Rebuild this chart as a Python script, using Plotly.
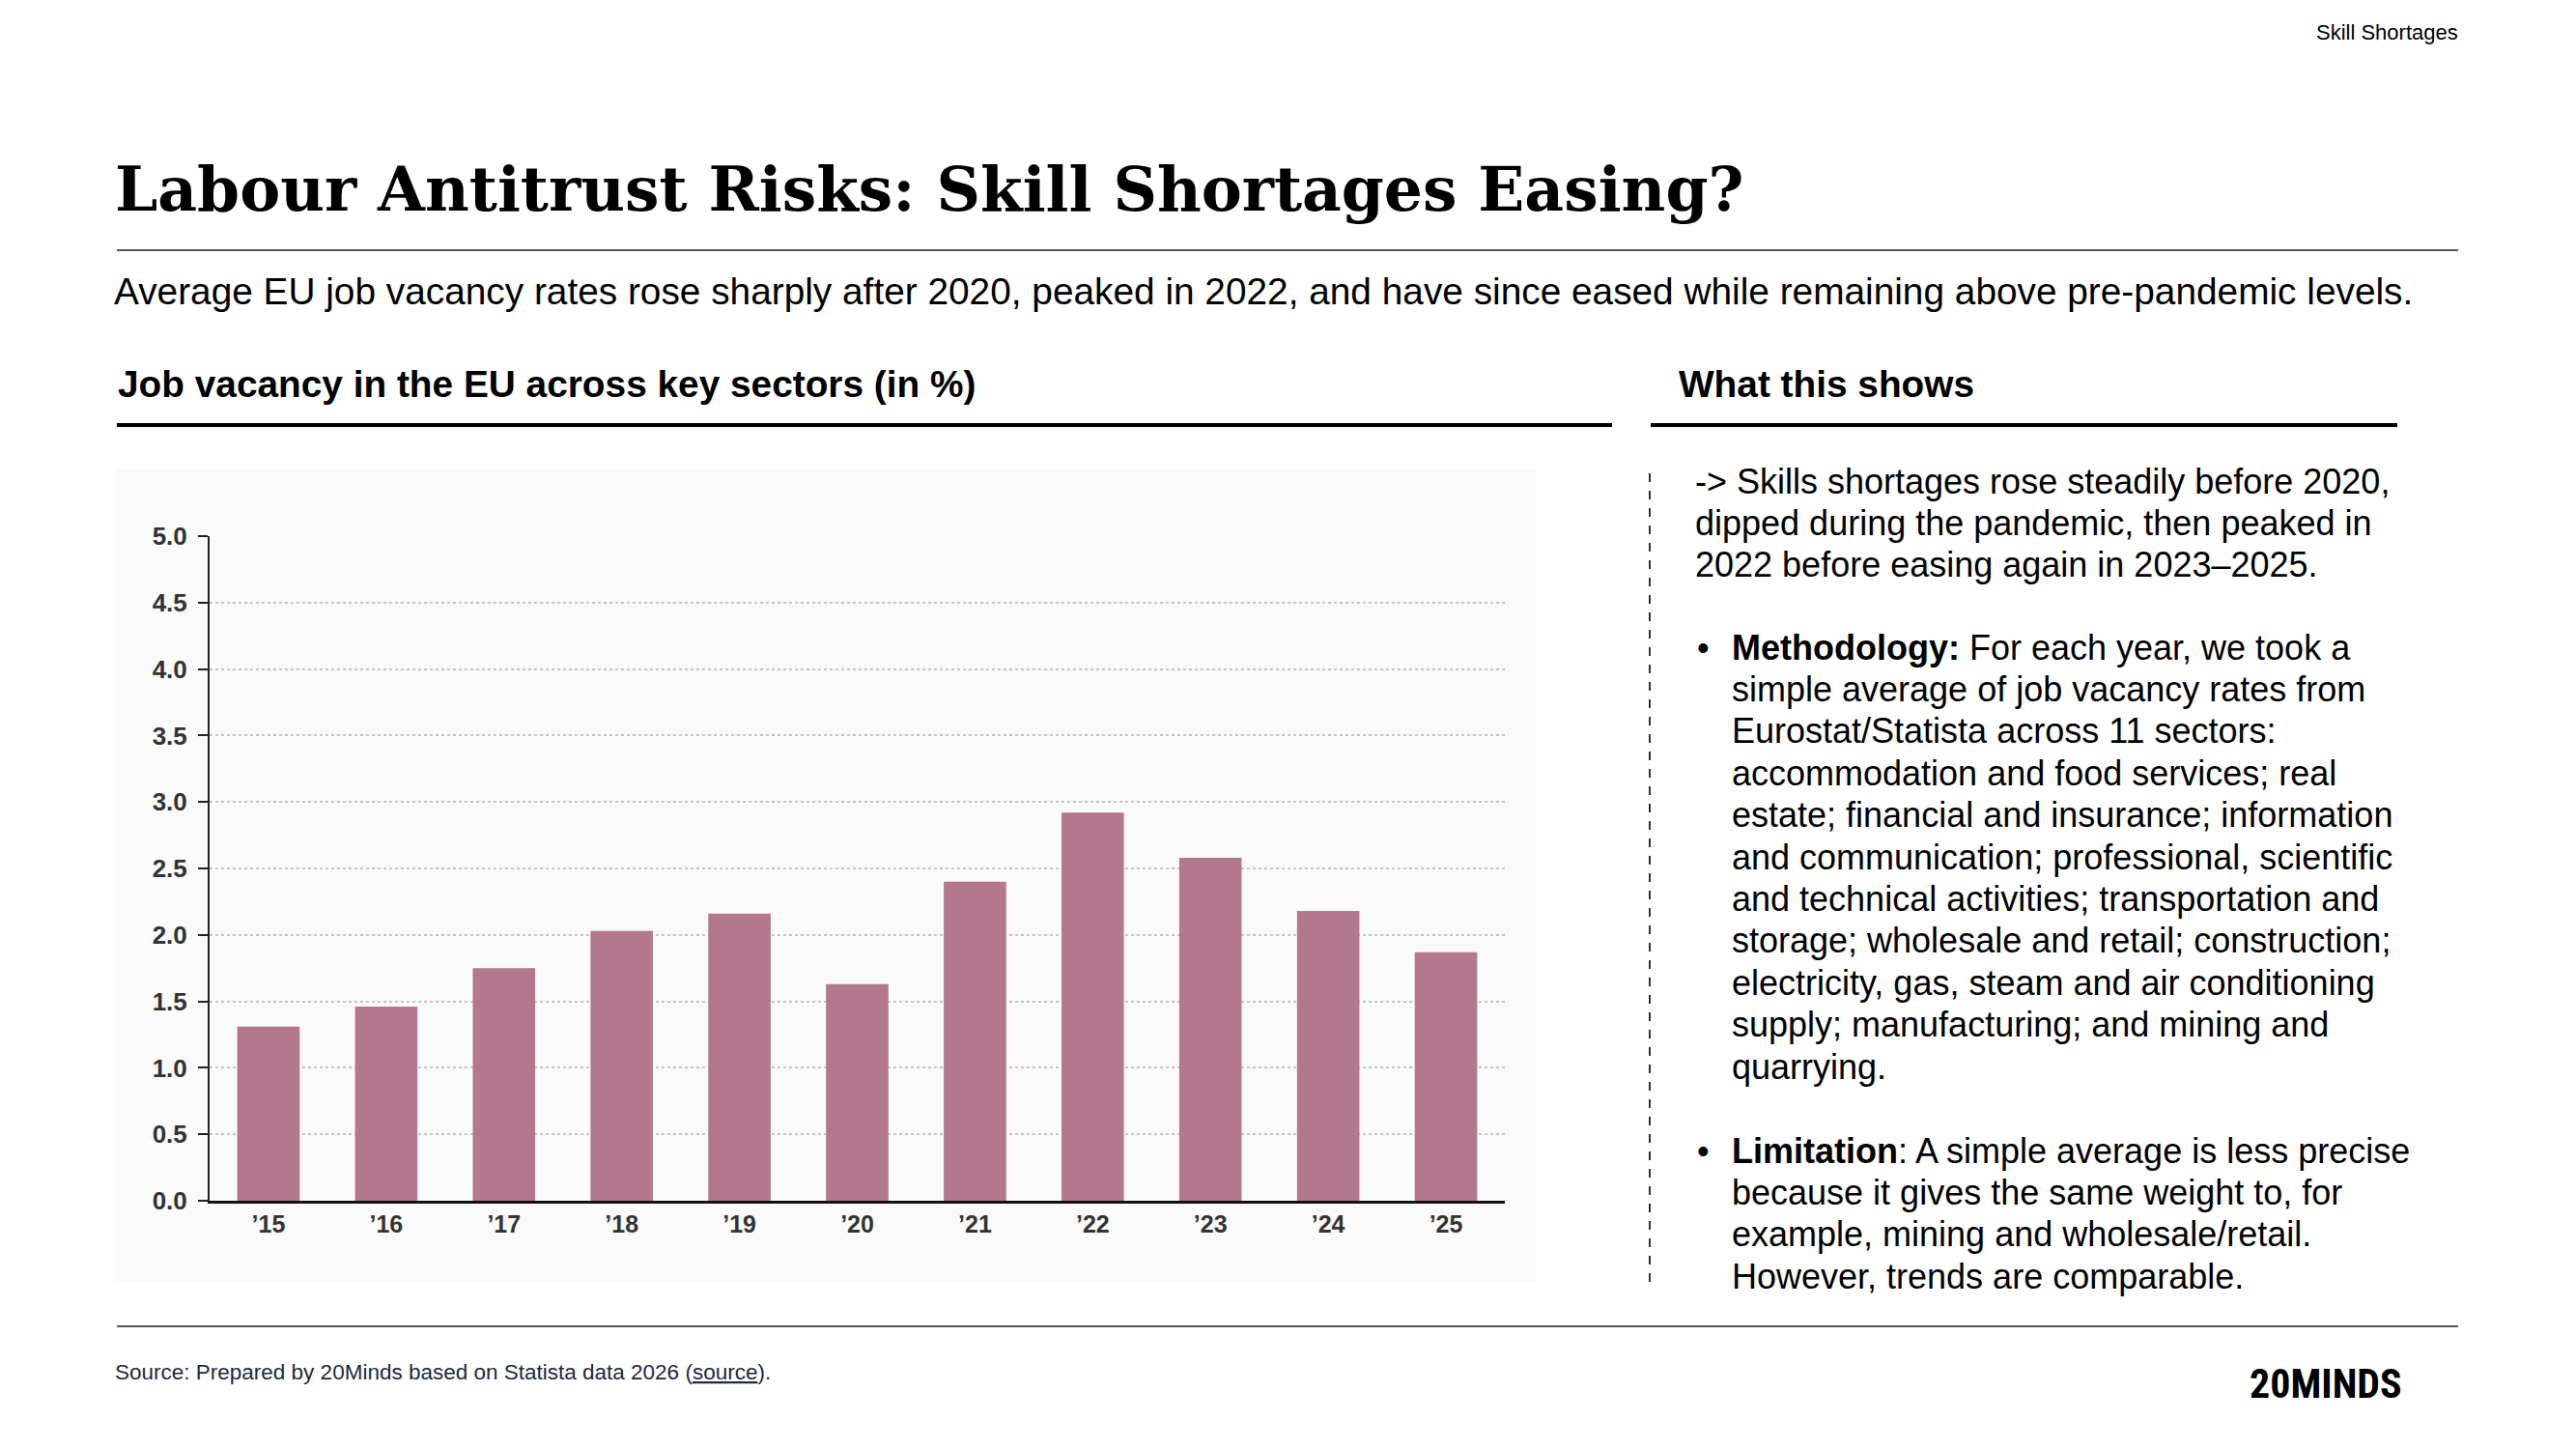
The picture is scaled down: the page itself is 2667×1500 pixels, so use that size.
import plotly.graph_objects as go

W, H = 2667, 1500

years = ["’15", "’16", "’17", "’18", "’19", "’20", "’21", "’22", "’23", "’24", "’25"]
vacancy = [1.31, 1.46, 1.75, 2.03, 2.16, 1.63, 2.40, 2.92, 2.58, 2.18, 1.87]
y_ticks = [0.0, 0.5, 1.0, 1.5, 2.0, 2.5, 3.0, 3.5, 4.0, 4.5, 5.0]

title = "Labour Antitrust Risks: Skill Shortages Easing?"
subtitle = ("Average EU job vacancy rates rose sharply after 2020, peaked in 2022, "
            "and have since eased while remaining above pre-pandemic levels.")
chart_title = "Job vacancy in the EU across key sectors (in %)"
side_title = "What this shows"
intro_lines = [
    "-> Skills shortages rose steadily before 2020,",
    "dipped during the pandemic, then peaked in",
    "2022 before easing again in 2023–2025.",
]
method_lines = [
    "<b>Methodology:</b> For each year, we took a",
    "simple average of job vacancy rates from",
    "Eurostat/Statista across 11 sectors:",
    "accommodation and food services; real",
    "estate; financial and insurance; information",
    "and communication; professional, scientific",
    "and technical activities; transportation and",
    "storage; wholesale and retail; construction;",
    "electricity, gas, steam and air conditioning",
    "supply; manufacturing; and mining and",
    "quarrying.",
]
limit_lines = [
    "<b>Limitation</b>: A simple average is less precise",
    "because it gives the same weight to, for",
    "example, mining and wholesale/retail.",
    "However, trends are comparable.",
]
source_text = ("Source: Prepared by 20Minds based on Statista data 2026 "
               "(<span style='text-decoration:underline'>source</span>).")

SANS = "Liberation Sans, Arial, sans-serif"
SERIF = "DejaVu Serif, Georgia, serif"
BAR = "#b3788e"


def px(x):
    return x / W


def py(y):
    return 1 - y / H


fig = go.Figure()
fig.add_trace(go.Bar(
    x=years, y=vacancy, width=0.53,
    marker=dict(color=BAR, line=dict(width=0)),
    hoverinfo="x+y",
))

annotations = []


def text(x, y, s, size, color="#000", xanchor="left", family=SANS):
    annotations.append(dict(
        x=px(x), y=py(y), xref="paper", yref="paper", text=s, showarrow=False,
        xanchor=xanchor, yanchor="middle", align="left",
        font=dict(family=family, size=size, color=color),
    ))


text(2547, 34, "Skill Shortages", 22, xanchor="right")
text(117, 196, "<b>" + title + "</b>", 63, family=SERIF)
text(116, 301, subtitle, 38.8)
text(120, 398, "<b>" + chart_title + "</b>", 38.8)
text(1736, 398, "<b>" + side_title + "</b>", 38.8)

FS = 36
line_step = 43.4
for i, s in enumerate(intro_lines):
    text(1753, 498 + i * line_step, s, FS)
text(1755, 670, "•", FS)
for i, s in enumerate(method_lines):
    text(1791, 670 + i * line_step, s, FS)
text(1755, 1191, "•", FS)
for i, s in enumerate(limit_lines):
    text(1791, 1191 + i * line_step, s, FS)

text(117, 1420, source_text, 22.5, color="#1b2a41")
text(2408, 1432, "<b>20MINDS</b>", 42, xanchor="center",
     family="Roboto Condensed, Liberation Sans Narrow, DejaVu Sans Condensed, sans-serif")

shapes = [
    # chart panel background
    dict(type="rect", xref="paper", yref="paper", x0=px(119), x1=px(1590), y0=py(1327), y1=py(485),
         fillcolor="#fafafa", line=dict(width=0), layer="below"),
    # title rule
    dict(type="line", xref="paper", yref="paper", x0=px(121), x1=px(2545), y0=py(259), y1=py(259),
         line=dict(color="#555", width=2)),
    # section underlines
    dict(type="line", xref="paper", yref="paper", x0=px(121), x1=px(1669), y0=py(440), y1=py(440),
         line=dict(color="#000", width=4)),
    dict(type="line", xref="paper", yref="paper", x0=px(1709), x1=px(2482), y0=py(440), y1=py(440),
         line=dict(color="#000", width=4)),
    # dashed divider
    dict(type="line", xref="paper", yref="paper", x0=px(1708), x1=px(1708), y0=py(490), y1=py(1327),
         line=dict(color="#333", width=2, dash="dash")),
    # footer rule
    dict(type="line", xref="paper", yref="paper", x0=px(121), x1=px(2545), y0=py(1373), y1=py(1373),
         line=dict(color="#555", width=2)),
]

fig.update_layout(
    width=W, height=H,
    margin=dict(l=0, r=0, t=0, b=0, pad=0, autoexpand=False),
    paper_bgcolor="white", plot_bgcolor="rgba(0,0,0,0)",
    showlegend=False,
    annotations=annotations, shapes=shapes,
    xaxis=dict(
        domain=[px(217), px(1558)], type="category",
        range=[-0.5, len(years) - 0.5],
        showline=True, linecolor="#111", linewidth=3,
        ticks="", showgrid=False, automargin=False,
        tickfont=dict(family=SANS, size=25, color="#333", weight="bold"),
        fixedrange=True,
    ),
    yaxis=dict(
        domain=[py(1243), py(555)], range=[0, 5],
        tickvals=y_ticks, ticktext=[f"{v:.1f}" for v in y_ticks],
        showline=True, linecolor="#222", linewidth=2,
        ticks="outside", ticklen=10, tickwidth=2, tickcolor="#222",
        ticklabelstandoff=6, automargin=False,
        showgrid=True, gridcolor="#c4c4c4", gridwidth=2, griddash="dot",
        zeroline=False,
        tickfont=dict(family=SANS, size=26, color="#333", weight="bold"),
        fixedrange=True,
    ),
    bargap=0.47,
)

fig.write_html("out.html")
